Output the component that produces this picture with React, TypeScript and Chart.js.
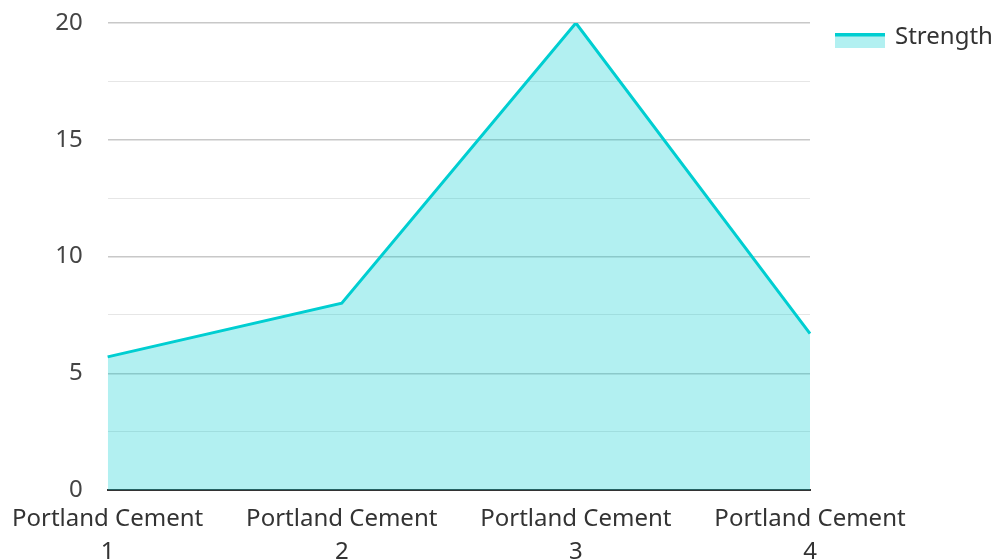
import React, { useEffect, useRef } from "react";
import { Chart, registerables } from "chart.js";

Chart.register(...registerables);

const categories: string[][] = [
  ["Portland Cement", "1"],
  ["Portland Cement", "2"],
  ["Portland Cement", "3"],
  ["Portland Cement", "4"],
];
const strengthValues: number[] = [5.7, 8, 20, 6.7];
const seriesName = "Strength";

const LINE = "#00CED1";
const FILL = "rgba(0, 206, 209, 0.3)";
const FONT = "'Noto Sans', 'Open Sans', sans-serif";

// Legend drawn at the right of the chart area (box with a top stroke, then label)
const customLegend = {
  id: "customLegend",
  afterDraw(chart: any) {
    const ctx = chart.ctx;
    const area = chart.chartArea;
    const x = area.right + 25;
    const boxTop = 33;
    ctx.save();
    ctx.fillStyle = FILL;
    ctx.fillRect(x, boxTop, 50, 15);
    ctx.fillStyle = LINE;
    ctx.fillRect(x, boxTop, 50, 3.5);
    ctx.fillStyle = "#333";
    ctx.font = `24px ${FONT}`;
    ctx.textBaseline = "alphabetic";
    ctx.textAlign = "left";
    ctx.fillText(chart.data.datasets[0].label, x + 60, 43.5);
    ctx.restore();
  },
};

export default function App() {
  const ref = useRef<HTMLCanvasElement | null>(null);
  useEffect(() => {
    document.body.style.margin = "0";
    if (!ref.current) return;
    const chart = new Chart(ref.current, {
      type: "line",
      data: {
        labels: categories,
        datasets: [
          {
            label: seriesName,
            data: strengthValues,
            borderColor: LINE,
            backgroundColor: FILL,
            borderWidth: 3,
            fill: "origin",
            pointRadius: 0,
            tension: 0,
          },
        ],
      },
      options: {
        animation: false,
        responsive: false,
        maintainAspectRatio: false,
        layout: { padding: { top: 23, right: 187, left: 8, bottom: 0 } },
        plugins: {
          legend: { display: false },
          tooltip: { enabled: false },
        },
        scales: {
          x: {
            grid: { display: false, drawTicks: false },
            border: { color: "#333", width: 2 },
            afterFit: (scale: any) => {
              scale.height = 70;
            },
            ticks: {
              color: "#333",
              font: { family: FONT, size: 24, lineHeight: 1.4 },
              maxRotation: 0,
              autoSkip: false,
              padding: 12,
            },
          },
          y: {
            min: 0,
            max: 20,
            border: { display: false },
            grid: {
              drawTicks: true,
              tickLength: 25,
              tickColor: "rgba(0,0,0,0)",
              color: (c: any) => (c.tick && c.tick.value % 5 === 0 ? "#c8c8c8" : "#e6e6e6"),
              lineWidth: (c: any) => (c.tick && c.tick.value % 5 === 0 ? 1.5 : 1),
            },
            ticks: {
              stepSize: 2.5,
              padding: 0,
              color: "#444",
              font: { family: FONT, size: 24 },
              callback: (v: any) => (Number(v) % 5 === 0 ? String(v) : ""),
            },
          },
        },
      },
      plugins: [customLegend],
    });
    return () => chart.destroy();
  }, []);
  return (
    <div style={{ width: 997, height: 560 }}>
      <canvas ref={ref} width={997} height={560} />
    </div>
  );
}
